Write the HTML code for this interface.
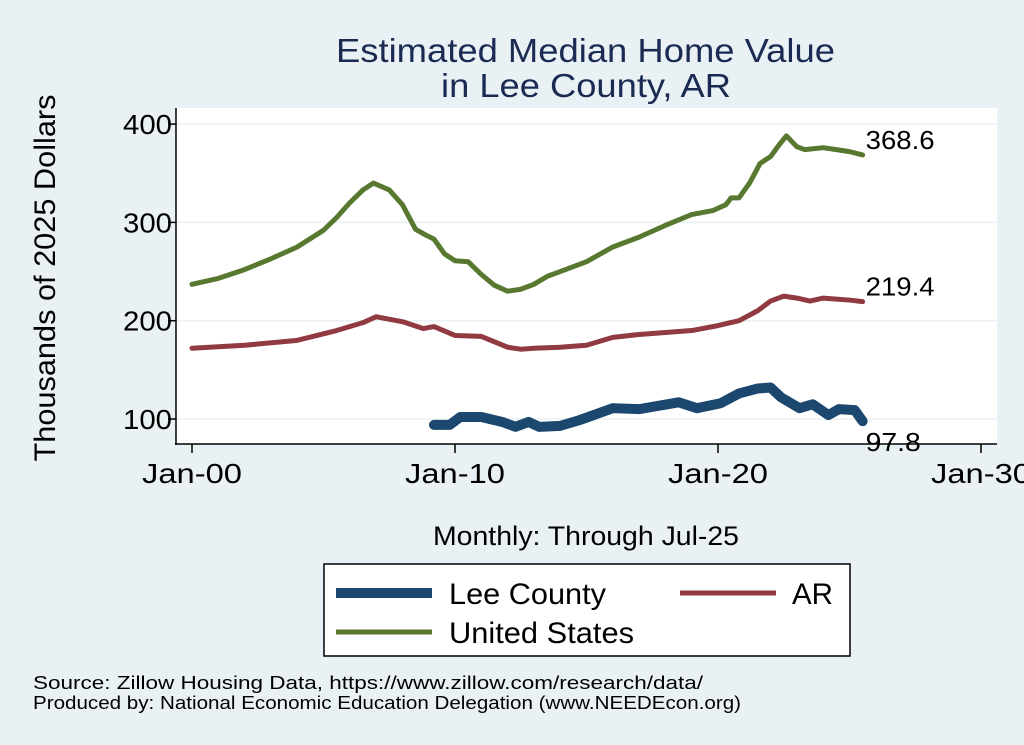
<!DOCTYPE html>
<html><head><meta charset="utf-8"><style>
body{margin:0;background:#eaf1f4;font-family:"Liberation Sans",sans-serif}
</style></head><body>
<svg width="1024" height="745" xmlns="http://www.w3.org/2000/svg" style="display:block">
<rect x="0" y="0" width="1024" height="745" fill="#eaf1f4"/>
<rect x="176" y="108" width="821" height="336" fill="#fff"/>
<text x="336" y="62" font-size="33" fill="#1b2a52" textLength="499" lengthAdjust="spacingAndGlyphs">Estimated Median Home Value</text>
<text x="441" y="97" font-size="33" fill="#1b2a52" textLength="290" lengthAdjust="spacingAndGlyphs">in Lee County, AR</text>
<g id="grid"></g><g id="axes"></g><g id="series"></g>
<text transform="translate(55,278) rotate(-90)" text-anchor="middle" font-size="30" fill="#000" textLength="367" lengthAdjust="spacingAndGlyphs">Thousands of 2025 Dollars</text>
<text x="433" y="545" font-size="27" fill="#000" textLength="306" lengthAdjust="spacingAndGlyphs">Monthly: Through Jul-25</text>
<g>
<rect x="324" y="564" width="526" height="92" fill="#fff" stroke="#000" stroke-width="1.5"/>
<line x1="336" y1="593" x2="432" y2="593" stroke="#1c476f" stroke-width="10"/>
<text x="449" y="604" font-size="30" textLength="157" lengthAdjust="spacingAndGlyphs">Lee County</text>
<line x1="680" y1="593" x2="776" y2="593" stroke="#913a41" stroke-width="5"/>
<text x="792" y="604" font-size="30" textLength="41" lengthAdjust="spacingAndGlyphs">AR</text>
<line x1="336" y1="632" x2="432" y2="632" stroke="#58782f" stroke-width="5"/>
<text x="449" y="643" font-size="30" textLength="185" lengthAdjust="spacingAndGlyphs">United States</text>
</g>
<text x="33" y="689" font-size="18" textLength="670" lengthAdjust="spacingAndGlyphs">Source: Zillow Housing Data, https://www.zillow.com/research/data/</text>
<text x="33" y="709" font-size="18" textLength="708" lengthAdjust="spacingAndGlyphs">Produced by: National Economic Education Delegation (www.NEEDEcon.org)</text>
</svg>
<script>
const yTicks=[100,200,300,400];
const xTickYears=[2000,2010,2020,2030];
const xTickLabels=["Jan-00","Jan-10","Jan-20","Jan-30"];
const usYears=[2000,2001,2002,2003,2004,2005,2005.5,2006,2006.5,2006.9,2007.5,2008,2008.5,2008.9,2009.2,2009.6,2010,2010.5,2011,2011.5,2012,2012.5,2013,2013.5,2014,2015,2016,2017,2018,2019,2019.8,2020.3,2020.5,2020.8,2021.2,2021.6,2022,2022.3,2022.6,2023,2023.3,2024,2024.5,2025,2025.5];
const usValues=[237,243,252,263,275,292,305,320,333,340,333,318,293,287,283,268,261,260,247,236,230,232,237,245,250,260,275,285,297,308,312,318,325,325,340,360,367,378,388,377,374,376,374,372,368.6];
const arYears=[2000,2002,2004,2005.5,2006.5,2007,2008,2008.8,2009.2,2010,2011,2012,2012.5,2013,2014,2015,2016,2017,2018,2019,2020,2020.8,2021.5,2022,2022.5,2023,2023.5,2024,2024.5,2025,2025.5];
const arValues=[172,175,180,190,198,204,199,192,194,185,184,173,171,172,173,175,183,186,188,190,195,200,210,220,225,223,220,223,222,221,219.4];
const leeYears=[2009.2,2009.8,2010.2,2011,2011.8,2012.3,2012.8,2013.2,2014,2014.75,2016,2017,2018.5,2019.2,2020.1,2020.8,2021.5,2022,2022.4,2023.1,2023.6,2024.2,2024.6,2025.2,2025.5];
const leeValues=[94,94,102,102,97,92,97,92,93,99,111,110,117,111,116,126,131,132,122,111,115,104,110,109,97.8];
const ns="http://www.w3.org/2000/svg";
const X=y=>192+(y-2000)*26.3;
const Y=v=>419-(v-100)*0.983;
function mk(tag,attrs,parent){const e=document.createElementNS(ns,tag);for(const k in attrs)e.setAttribute(k,attrs[k]);document.getElementById(parent).appendChild(e);return e;}
yTicks.forEach(t=>{
 const g=mk('line',{x1:176,x2:997,y1:Y(t),y2:Y(t),stroke:'#eaf1f4','stroke-width':1.5},'grid');
 
 
 const tk=mk('line',{x1:168,x2:176,y1:Y(t),y2:Y(t),stroke:'#000','stroke-width':1.5},'axes');
 
 
 const tx=mk('text',{x:172,y:Y(t)+10,'text-anchor':'end','font-size':28,textLength:49,lengthAdjust:'spacingAndGlyphs'},'axes');
 tx.textContent=t;
 
 
});
xTickYears.forEach((yr,i)=>{
 const tk=mk('line',{x1:X(yr),x2:X(yr),y1:444,y2:453,stroke:'#000','stroke-width':1.5},'axes');
 
 
 const tx=mk('text',{x:X(yr)-50,y:483,'font-size':28,textLength:100,lengthAdjust:'spacingAndGlyphs'},'axes');
 tx.textContent=xTickLabels[i];
 
 
});
const ya=mk('line',{x1:176,x2:176,y1:108,y2:445,stroke:'#000','stroke-width':1.5},'axes');


const xa=mk('line',{x1:175,x2:997,y1:444,y2:444,stroke:'#000','stroke-width':1.5},'axes');


function series(xs,vs,color,w,name){
 const p=mk('polyline',{points:xs.map((x,i)=>X(x)+','+Y(vs[i])).join(' '),fill:'none',stroke:color,'stroke-width':w,'stroke-linejoin':'round','stroke-linecap':'round'},'series');
 
 
 const last=vs[vs.length-1];
 const txt=last.toFixed(1);
 const lb=mk('text',{x:X(xs[xs.length-1])+3,y:name==='line-lee-county'?Y(last)+30:Y(last)-6,'font-size':26,textLength:txt.length*13.8,lengthAdjust:'spacingAndGlyphs'},'series');
 lb.textContent=txt;
 
 
}
series(usYears,usValues,'#58782f',5,'line-united-states');
series(arYears,arValues,'#913a41',5,'line-ar');
series(leeYears,leeValues,'#1c476f',10,'line-lee-county');
</script>
</body></html>
